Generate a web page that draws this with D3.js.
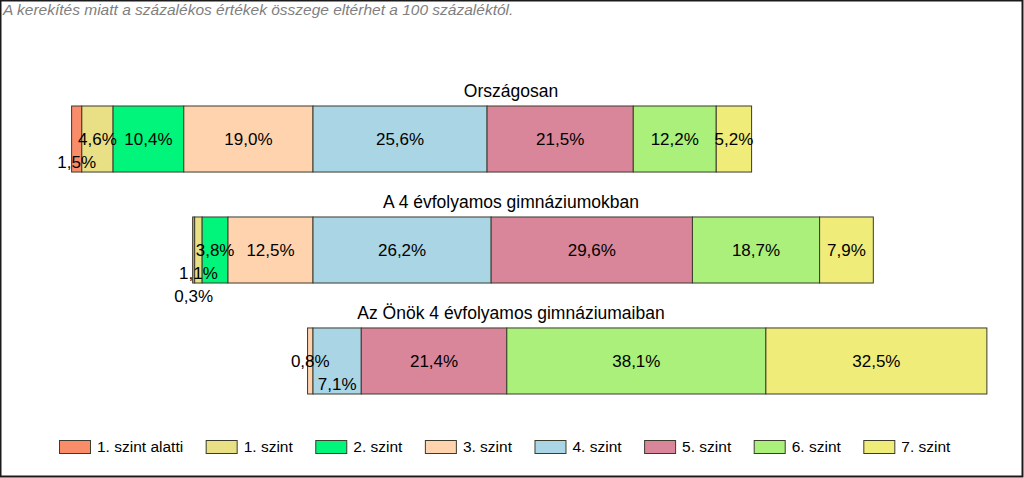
<!DOCTYPE html>
<html><head><meta charset="utf-8">
<script src="https://cdn.jsdelivr.net/npm/d3@7"></script>
<style>body{margin:0;background:#fff}svg{display:block}text{font-family:"Liberation Sans",Arial,sans-serif}</style>
</head><body><svg id="c" width="1024" height="478"></svg>
<script>
const levels = ["1. szint alatti","1. szint","2. szint","3. szint","4. szint","5. szint","6. szint","7. szint"];
const groups = ["Országosan","A 4 évfolyamos gimnáziumokban","Az Önök 4 évfolyamos gimnáziumaiban"];
const orszagosan = [1.5,4.6,10.4,19.0,25.6,21.5,12.2,5.2];
const gimnaziumok = [0.3,1.1,3.8,12.5,26.2,29.6,18.7,7.9];
const onok = [0,0,0,0.8,7.1,21.4,38.1,32.5];
const seriesByGroup = [orszagosan, gimnaziumok, onok];
const colors = ["#F98D69","#E9DF85","#00F57A","#FFD3AE","#A9D5E5","#D9869A","#AAF07A","#F0EC7A"];
const note = "A kerekítés miatt a  százalékos értékek összege eltérhet a 100 százaléktól.";
// label placement: how many rows a crowded label is pushed down
const labelDrop = {"0|0":1,"1|0":2,"1|1":1,"2|4":1};

const svg = d3.select("#c");
svg.append("rect").attr("x",0.5).attr("y",0.5).attr("width",1022).attr("height",476)
  .attr("fill","#fff").attr("stroke","#1a1a1a").attr("stroke-width",2);
svg.append("text").attr("x",3).attr("y",15).attr("font-size",15.5).attr("font-style","italic")
  .attr("fill","#7f7f7f").text(note);

// diverging: 0 at boundary between 3. szint and 4. szint
const x = d3.scaleLinear().domain([-40,100]).range([41,993]);
const y = d3.scaleBand().domain(groups).range([106,394]).paddingInner(0.405).paddingOuter(0);

groups.forEach((g,gi)=>{
  const vals = seriesByGroup[gi];
  const neg = d3.sum(vals.slice(0,4));
  let start = -neg;
  const segs = vals.map((v,i)=>{const s={v,i,x0:start,x1:start+v}; start+=v; return s;});
  const gg = svg.append("g");
  const y0 = y(g), h = y.bandwidth();
  gg.append("text").attr("x",511).attr("y",y0-9).attr("text-anchor","middle")
    .attr("font-size",17.5).attr("fill","#000").text(g);
  gg.selectAll("rect").data(segs.filter(s=>s.v>0)).join("rect")
    .attr("x",s=>x(s.x0)).attr("y",y0).attr("width",s=>x(s.x1)-x(s.x0)).attr("height",h)
    .attr("fill",s=>colors[s.i]).attr("stroke","#3b3b2e").attr("stroke-width",1);
  gg.selectAll("text.lab").data(segs.filter(s=>s.v>0)).join("text").attr("class","lab")
    .attr("x",s=>(x(s.x0)+x(s.x1))/2)
    .attr("y",s=>y0+h/2+6+(labelDrop[gi+"|"+s.i]||0)*23)
    .attr("text-anchor","middle").attr("font-size",17).attr("fill","#000")
    .text(s=>d3.format(".1f")(s.v).replace(".",",")+"%");
});

// legend
const lg = svg.append("g");
let lx = 59;
levels.forEach((l,i)=>{
  const it = lg.append("g").attr("transform",`translate(${lx},440)`);
  it.append("rect").attr("x",0.5).attr("y",0.5).attr("width",31).attr("height",13)
    .attr("fill",colors[i]).attr("stroke","#3b3b2e");
  const t = it.append("text").attr("x",38).attr("y",12).attr("font-size",15.5).attr("fill","#000").text(l);
  lx += t.node().getComputedTextLength() + 60.5;
});
</script></body></html>
